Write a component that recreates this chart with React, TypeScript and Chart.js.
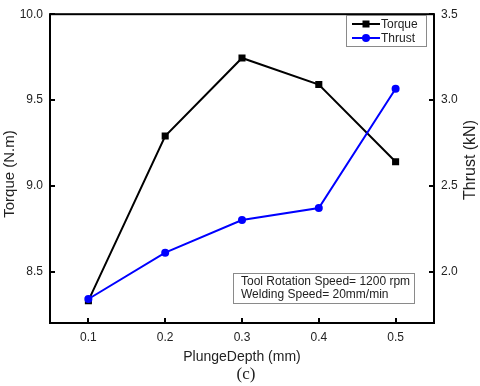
import React, { useEffect, useRef } from "react";
import { Chart, registerables } from "chart.js";

Chart.register(...registerables);

const plungeDepth = [0.1, 0.2, 0.3, 0.4, 0.5];
const torque = [8.33, 9.29, 9.745, 9.59, 9.14];
const thrust = [1.84, 2.11, 2.3, 2.37, 3.065];
const xTicks = [0.1, 0.2, 0.3, 0.4, 0.5];
const torqueTicks = [8.5, 9.0, 9.5, 10.0];
const thrustTicks = [2.0, 2.5, 3.0, 3.5];
const legendLabels = ["Torque", "Thrust"];
const noteLines = ["Tool Rotation Speed= 1200 rpm", "Welding Speed= 20mm/min"];
const subLabel = "(c)";
const leftTitle = "Torque (N.m)";
const rightTitle = "Thrust (kN)";

const SANS = "Arial, 'Liberation Sans', sans-serif";

const framePlugin = {
  id: "frameAndExtras",
  afterDatasetsDraw(chart: any) {
    const { ctx, chartArea: a, scales } = chart;
    ctx.save();
    // inner ticks
    ctx.strokeStyle = "#000";
    ctx.lineWidth = 2;
    const tl = 5;
    ctx.beginPath();
    xTicks.forEach((v) => {
      const x = Math.round(scales.x.getPixelForValue(v));
      ctx.moveTo(x, a.bottom);
      ctx.lineTo(x, a.bottom - tl);
    });
    torqueTicks.forEach((v) => {
      const y = Math.round(scales.y.getPixelForValue(v));
      ctx.moveTo(a.left, y);
      ctx.lineTo(a.left + tl, y);
    });
    thrustTicks.forEach((v) => {
      const y = Math.round(scales.y1.getPixelForValue(v));
      ctx.moveTo(a.right, y);
      ctx.lineTo(a.right - tl, y);
    });
    ctx.stroke();
    // frame
    ctx.lineWidth = 2;
    ctx.strokeRect(a.left, a.top, a.right - a.left, a.bottom - a.top);

    // legend
    const lx = 346, ly = 15, lw = 80, lh = 31;
    ctx.fillStyle = "#fff";
    ctx.fillRect(lx, ly, lw, lh);
    ctx.strokeStyle = "#8a8a8a";
    ctx.lineWidth = 1;
    ctx.strokeRect(lx + 0.5, ly + 0.5, lw, lh);
    const colors = ["#000", "#0000ff"];
    const rows = [24, 38];
    legendLabels.forEach((lab, i) => {
      const y = rows[i];
      ctx.strokeStyle = colors[i];
      ctx.lineWidth = 2;
      ctx.beginPath();
      ctx.moveTo(352, y);
      ctx.lineTo(380, y);
      ctx.stroke();
      ctx.fillStyle = colors[i];
      if (i === 0) {
        ctx.fillRect(362.5, y - 3.5, 7, 7);
      } else {
        ctx.beginPath();
        ctx.arc(366, y, 4, 0, Math.PI * 2);
        ctx.fill();
      }
      ctx.fillStyle = "#222";
      ctx.font = `12px ${SANS}`;
      ctx.textBaseline = "middle";
      ctx.textAlign = "left";
      ctx.fillText(lab, 381, y + 0.5);
    });

    // note box
    const bx = 233, by = 273, bw = 181, bh = 30;
    ctx.fillStyle = "#fff";
    ctx.fillRect(bx, by, bw, bh);
    ctx.strokeStyle = "#8a8a8a";
    ctx.lineWidth = 1;
    ctx.strokeRect(bx + 0.5, by + 0.5, bw, bh);
    ctx.fillStyle = "#222";
    ctx.font = `12px ${SANS}`;
    ctx.textBaseline = "middle";
    ctx.textAlign = "left";
    ctx.fillText(noteLines[0], 241, 281.5);
    ctx.fillText(noteLines[1], 241, 295);

    // y-axis titles
    ctx.textAlign = "center";
    ctx.textBaseline = "middle";
    ctx.fillStyle = "#222";
    ctx.font = `15px ${SANS}`;
    ctx.save();
    ctx.translate(10, 174);
    ctx.rotate(-Math.PI / 2);
    ctx.fillText(leftTitle, 0, 0);
    ctx.restore();
    ctx.font = `16px ${SANS}`;
    ctx.save();
    ctx.translate(471, 160);
    ctx.rotate(-Math.PI / 2);
    ctx.fillText(rightTitle, 0, 0);
    ctx.restore();

    // sub label
    ctx.font = "17px 'Liberation Serif', 'Times New Roman', serif";
    ctx.textAlign = "center";
    ctx.fillStyle = "#222";
    ctx.fillText(subLabel, (a.left + a.right) / 2 + 4, 375);
    ctx.restore();
  },
};

export default function App() {
  const ref = useRef<HTMLCanvasElement>(null);
  useEffect(() => {
    if (!ref.current) return;
    const chart = new Chart(ref.current, {
      type: "line",
      data: {
        datasets: [
          {
            label: legendLabels[0],
            data: plungeDepth.map((x, i) => ({ x, y: torque[i] })),
            borderColor: "#000",
            backgroundColor: "#000",
            borderWidth: 2,
            pointStyle: "rect",
            pointRadius: 5,
            pointBorderWidth: 0,
            yAxisID: "y",
            order: 1,
          },
          {
            label: legendLabels[1],
            data: plungeDepth.map((x, i) => ({ x, y: thrust[i] })),
            borderColor: "#0000ff",
            backgroundColor: "#0000ff",
            borderWidth: 2,
            pointStyle: "circle",
            pointRadius: 4,
            pointBorderWidth: 0,
            yAxisID: "y1",
            order: 0,
          },
        ],
      },
      options: {
        responsive: false,
        animation: false,
        layout: { padding: { top: 10, left: 0, right: 0, bottom: 0 } },
        plugins: { legend: { display: false }, tooltip: { enabled: false } },
        scales: {
          x: {
            type: "linear",
            min: 0.05,
            max: 0.55,
            afterBuildTicks: (s: any) => {
              s.ticks = xTicks.map((v) => ({ value: v }));
            },
            afterFit: (s: any) => {
              s.height = 63;
            },
            grid: { display: false, drawTicks: false },
            border: { display: false },
            ticks: {
              padding: 7,
              color: "#222",
              font: { size: 12, family: SANS },
              callback: (v: any) => Number(v).toFixed(1),
            },
            title: {
              display: true,
              text: "PlungeDepth (mm)",
              color: "#222",
              font: { size: 14, family: SANS },
              padding: { top: 0, bottom: 20 },
            },
          },
          y: {
            type: "linear",
            position: "left",
            min: 8.2,
            max: 10.0,
            afterBuildTicks: (s: any) => {
              s.ticks = torqueTicks.map((v) => ({ value: v }));
            },
            afterFit: (s: any) => {
              s.width = 50;
            },
            grid: { display: false, drawTicks: false },
            border: { display: false },
            ticks: {
              padding: 7,
              color: "#222",
              font: { size: 12, family: SANS },
              callback: (v: any) => Number(v).toFixed(1),
            },
          },
          y1: {
            type: "linear",
            position: "right",
            min: 1.7,
            max: 3.5,
            afterBuildTicks: (s: any) => {
              s.ticks = thrustTicks.map((v) => ({ value: v }));
            },
            afterFit: (s: any) => {
              s.width = 46;
            },
            grid: { display: false, drawTicks: false },
            border: { display: false },
            ticks: {
              padding: 7,
              color: "#222",
              font: { size: 12, family: SANS },
              callback: (v: any) => Number(v).toFixed(1),
            },
          },
        },
      },
      plugins: [framePlugin],
    } as any);
    return () => chart.destroy();
  }, []);
  return (
    <div style={{ position: "absolute", left: 0, top: 0, width: 480, height: 386, background: "#fff" }}>
      <canvas ref={ref} width={480} height={386} style={{ display: "block" }} />
    </div>
  );
}
